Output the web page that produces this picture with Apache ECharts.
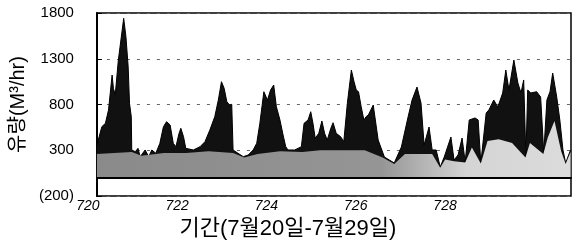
<!DOCTYPE html>
<html>
<head>
<meta charset="utf-8">
<script src="https://cdn.jsdelivr.net/npm/echarts@6/dist/echarts.min.js"></script>
<style>
html, body { margin: 0; padding: 0; background: #fff; }
#chart { width: 583px; height: 249px; }
</style>
</head>
<body>
<div id="chart"></div>
<script>
// 유량 (전체) - 시간축은 일 단위 (720 = 7월20일)
var flowTimes = [
	720.00, 720.04, 720.11, 720.19, 720.26, 720.34, 720.37, 720.41, 720.48, 720.60,
	720.65, 720.70, 720.73, 720.77, 720.78, 720.86, 720.92, 720.97, 721.08, 721.16,
	721.23, 721.32, 721.41, 721.49, 721.56, 721.64, 721.71, 721.77, 721.84, 721.88,
	721.94, 721.99, 722.16, 722.31, 722.42, 722.53, 722.64, 722.72, 722.79, 722.85,
	722.91, 722.97, 723.02, 723.05, 723.16, 723.28, 723.39, 723.50, 723.58, 723.65,
	723.74, 723.82, 723.89, 723.96, 724.02, 724.10, 724.17, 724.23, 724.28, 724.43,
	724.58, 724.64, 724.73, 724.79, 724.84, 724.89, 724.97, 725.04, 725.10, 725.16,
	725.24, 725.29, 725.36, 725.46, 725.53, 725.61, 725.70, 725.76, 725.81, 725.86,
	725.92, 725.98, 726.03, 726.08, 726.19, 726.30, 726.44, 726.66, 726.82, 726.97,
	727.06, 727.17, 727.26, 727.33, 727.44, 727.51, 727.60, 727.69, 727.78, 727.93,
	728.00, 728.09, 728.18, 728.25, 728.34, 728.47, 728.54, 728.60, 728.72, 728.78,
	728.89, 728.98, 729.09, 729.16, 729.23, 729.34, 729.43, 729.50, 729.56, 729.61,
	729.65, 729.72, 729.85, 729.94, 730.01, 730.08, 730.15, 730.21, 730.30, 730.37,
	730.44, 730.50, 730.61
];
var flowValues = [
	356, 376, 557, 594, 740, 1122, 977, 904, 1286, 1742,
	1541, 1213, 813, 667, 303, 284, 321, 230, 303, 230,
	303, 267, 376, 557, 612, 576, 376, 339, 485, 540,
	448, 321, 303, 339, 393, 521, 667, 849, 1049, 977,
	831, 795, 802, 303, 267, 230, 248, 303, 376, 594,
	940, 849, 958, 1013, 776, 631, 467, 339, 303, 303,
	339, 594, 631, 721, 594, 431, 485, 620, 485, 412,
	540, 601, 485, 448, 393, 813, 1177, 1049, 958, 940,
	776, 631, 667, 685, 794, 412, 226, 161, 335, 663,
	849, 991, 816, 357, 554, 303, 303, 117, 226, 445,
	193, 248, 433, 172, 631, 653, 631, 161, 707, 740,
	849, 773, 926, 1177, 958, 1286, 1035, 926, 1068, 226,
	958, 926, 940, 882, 270, 849, 940, 1144, 882, 631,
	303, 161, 303
];

// 기저 유량 (회색 부분)
var baseTimes = [
	720.00, 720.78, 721.00, 721.50, 722.00, 722.50, 723.05, 723.30, 723.60, 724.10,
	724.60, 725.00, 725.50, 726.00, 726.40, 726.66, 726.90, 727.30, 727.51, 727.69,
	727.80, 728.00, 728.25, 728.40, 728.60, 728.75, 729.00, 729.30, 729.60, 729.70,
	730.00, 730.10, 730.25, 730.40, 730.50, 730.61
];
var baseValues = [
	260, 280, 240, 270, 270, 290, 270, 220, 260, 290,
	280, 300, 300, 300, 220, 150, 260, 260, 260, 110,
	200, 180, 165, 330, 155, 400, 420, 380, 220, 380,
	260, 440, 620, 290, 150, 280
];

var yTicks = [-200, 300, 800, 1300, 1800];
var xTicks = [720, 722, 724, 726, 728];

var flowData = [];
for (var i = 0; i < flowTimes.length; i++) {
	flowData.push([flowTimes[i], flowValues[i]]);
}
var baseData = [];
for (var b = 0; b < baseTimes.length; b++) {
	baseData.push([baseTimes[b], baseValues[b]]);
}

var font = "'Liberation Sans', 'Noto Sans CJK KR', sans-serif";
var chart = echarts.init(document.getElementById('chart'));

var option = {
	animation: false,
	grid: {
		left: 95,
		right: 12,
		top: 13,
		bottom: 53,
		show: true,
		borderColor: '#000',
		borderWidth: 1.5
	},
	xAxis: {
		type: 'value',
		min: 720,
		max: 730.62,
		interval: 2,
		name: '기간(7월20일-7월29일)',
		nameLocation: 'middle',
		nameGap: 13,
		nameTextStyle: {
			fontFamily: font,
			fontSize: 22,
			color: '#000',
			padding: [0, 92, 0, 0]
		},
		axisLine: { show: true, lineStyle: { color: '#000', width: 2 } },
		axisTick: { show: false },
		splitLine: { show: false },
		axisLabel: {
			fontFamily: font,
			fontSize: 14,
			fontStyle: 'italic',
			color: '#000',
			margin: 3,
			padding: [0, 18, 0, 0],
			formatter: function (v) {
				return xTicks.indexOf(v) >= 0 ? String(v) : '';
			}
		}
	},
	yAxis: {
		type: 'value',
		min: -200,
		max: 1800,
		interval: 500,
		name: '유량(M³/hr)',
		nameLocation: 'middle',
		nameGap: 52,
		nameTextStyle: {
			fontFamily: font,
			fontSize: 20,
			color: '#000'
		},
		axisLine: { show: true, lineStyle: { color: '#000', width: 2 } },
		axisTick: { show: true, inside: true, length: 5, lineStyle: { color: '#000' } },
		axisLabel: {
			fontFamily: font,
			fontSize: 15,
			color: '#000',
			margin: 23,
			formatter: function (v) {
				if (yTicks.indexOf(v) < 0) return '';
				return v < 0 ? '(' + (-v) + ')' : String(v);
			}
		},
		splitLine: {
			show: true,
			lineStyle: { color: '#666', width: 1, type: [3, 7] }
		}
	},
	series: [
		{
			name: '유량',
			type: 'line',
			data: flowData,
			symbol: 'none',
			lineStyle: { color: '#000', width: 1 },
			areaStyle: { color: '#111', opacity: 1 },
			markLine: {
				silent: true,
				symbol: 'none',
				label: { show: false },
				lineStyle: { color: '#000', width: 2, type: 'solid' },
				data: [{ yAxis: 0 }]
			},
			z: 2
		},
		{
			name: '기저유량',
			type: 'line',
			data: baseData,
			symbol: 'none',
			lineStyle: { width: 0 },
			areaStyle: {
				opacity: 1,
				color: new echarts.graphic.LinearGradient(0, 0, 1, 0, [
					{ offset: 0, color: '#8a8a8a' },
					{ offset: 0.6, color: '#959595' },
					{ offset: 0.7, color: '#b8b8b8' },
					{ offset: 0.78, color: '#d4d4d4' },
					{ offset: 1, color: '#dcdcdc' }
				])
			},
			z: 3
		}
	]
};

chart.setOption(option);
</script>
</body>
</html>
